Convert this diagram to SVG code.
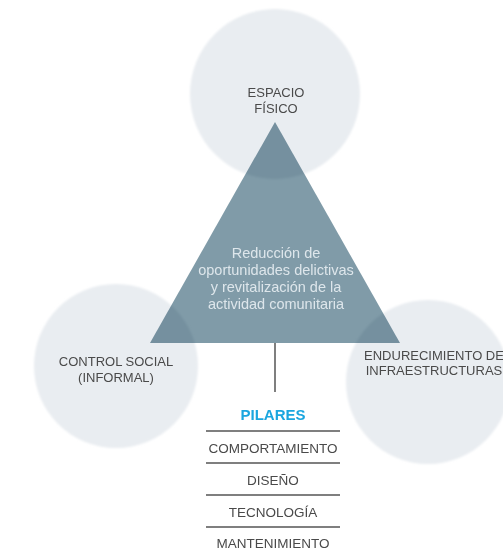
<svg xmlns="http://www.w3.org/2000/svg" width="503" height="559" viewBox="0 0 503 559">
  <style>
    .circ { fill: #e9edf1; }
    .lbl { font-family: "Liberation Sans", Arial, sans-serif; font-size: 13px; fill: #4a4a4a; text-anchor: middle; }
    .core { font-family: "Liberation Sans", Arial, sans-serif; font-size: 14.5px; fill: #dde6eb; text-anchor: middle; }
    .pil { font-family: "Liberation Sans", Arial, sans-serif; font-size: 13.5px; fill: #4a4a4a; text-anchor: middle; }
    .head { font-family: "Liberation Sans", Arial, sans-serif; font-size: 15px; font-weight: bold; fill: #1ba6df; text-anchor: middle; }
    .rule { stroke: #555; stroke-width: 1.5; }
  </style>
  <defs>
    <filter id="soft" x="-10%" y="-10%" width="120%" height="120%">
      <feGaussianBlur stdDeviation="0.8"/>
    </filter>
  </defs>
  <rect width="503" height="559" fill="#ffffff"/>

  <g id="espacio-fisico">
    <circle class="circ" cx="275" cy="94" r="85" filter="url(#soft)"/>
  </g>
  <g id="control-social">
    <circle class="circ" cx="116" cy="366" r="82" filter="url(#soft)"/>
  </g>
  <g id="endurecimiento">
    <circle class="circ" cx="428" cy="382" r="82" filter="url(#soft)"/>
  </g>

  <g id="reduccion">
    <polygon points="275,122 150,343 400,343" fill="#809ba8" style="mix-blend-mode:multiply"/>
    <text class="core" x="276" y="258">Reducción de</text>
    <text class="core" x="276" y="275">oportunidades delictivas</text>
    <text class="core" x="276" y="292">y revitalización de la</text>
    <text class="core" x="276" y="309">actividad comunitaria</text>
  </g>

  <g id="labels">
    <text class="lbl" x="276" y="97">ESPACIO</text>
    <text class="lbl" x="276" y="113">FÍSICO</text>
    <text class="lbl" x="116" y="366">CONTROL SOCIAL</text>
    <text class="lbl" x="116" y="382">(INFORMAL)</text>
    <text class="lbl" x="434" y="360">ENDURECIMIENTO DE</text>
    <text class="lbl" x="434" y="375">INFRAESTRUCTURAS</text>
  </g>

  <g id="connectors">
    <line class="rule" x1="275" y1="343" x2="275" y2="392"/>
  </g>

  <g id="pilares">
    <text class="head" x="273" y="420">PILARES</text>
    <line class="rule" x1="206" y1="431" x2="340" y2="431"/>
    <text class="pil" x="273" y="453">COMPORTAMIENTO</text>
    <line class="rule" x1="206" y1="463" x2="340" y2="463"/>
    <text class="pil" x="273" y="485">DISEÑO</text>
    <line class="rule" x1="206" y1="495" x2="340" y2="495"/>
    <text class="pil" x="273" y="517">TECNOLOGÍA</text>
    <line class="rule" x1="206" y1="527" x2="340" y2="527"/>
    <text class="pil" x="273" y="548">MANTENIMIENTO</text>
  </g>
</svg>
